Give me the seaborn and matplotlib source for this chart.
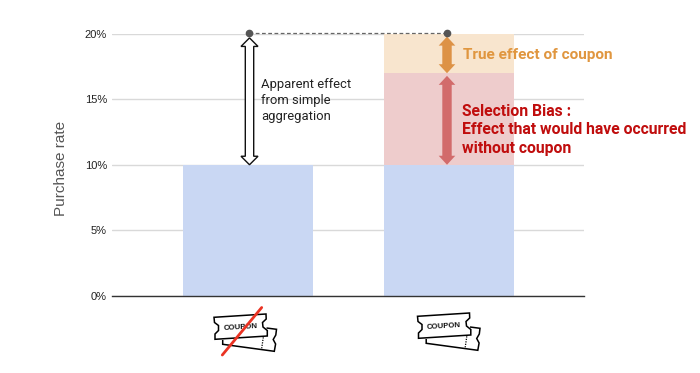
import matplotlib
matplotlib.use("Agg")
import matplotlib.pyplot as plt
from matplotlib.patches import Polygon
from matplotlib.transforms import Affine2D
import numpy as np
import pandas as pd
import seaborn as sns

groups = ["No coupon", "Coupon"]
baseline = [10, 10]
selection_bias = [0, 7]
true_effect = [0, 3]
yticks = [0, 5, 10, 15, 20]
ytick_labels = ["0%", "5%", "10%", "15%", "20%"]

sns.set_theme(style="white")
W, H = 700, 373
fig = plt.figure(figsize=(7, 3.73), dpi=100)
L, R, T, B = 112, 584, 34, 295.5
ax = fig.add_axes([L / W, 1 - B / H, (R - L) / W, (B - T) / H])
px = Affine2D().scale(1, -1).translate(0, H)

df = pd.DataFrame({"g": groups, "b": baseline, "s": selection_bias, "t": true_effect})
bw = 0.647
kw = dict(saturation=1, width=bw, ax=ax, zorder=2, linewidth=0)
sns.barplot(data=df, x="g", y="b", color="#c9d7f3", **kw)
sns.barplot(data=df, x="g", y="s", bottom=df["b"], color="#eecccc", **kw)
sns.barplot(data=df, x="g", y="t", bottom=df["b"] + df["s"], color="#f8e5ce", **kw)

ax.set_xlim(-0.677, 1.672)
ax.set_ylim(0, 20)
ax.set_yticks(yticks, ytick_labels, fontfamily="Liberation Sans", fontsize=8, color="#222222")
ax.set_xticks([])
ax.set_xlabel("")
ax.set_ylabel("Purchase rate", fontfamily="Liberation Sans", fontsize=11, color="#555555")
ax.yaxis.set_label_coords((68 - L) / (R - L), 0.485)
ax.yaxis.grid(True, color="#d9d9d9", lw=1, zorder=0)
ax.set_axisbelow(True)
ax.tick_params(axis="y", length=0, pad=3.6)
for s in ["top", "right", "left"]:
    ax.spines[s].set_visible(False)
ax.spines["bottom"].set_color("#333333")
ax.spines["bottom"].set_linewidth(1)
ax.spines["bottom"].set_zorder(5)


def y2p(v):
    return B - (B - T) * v / 20


def double_arrow(x, v0, v1, face, edge, sw, hw, hl, lw):
    y0, y1 = y2p(v0), y2p(v1)
    pts = [(x - sw, y1 + hl), (x - hw, y1 + hl), (x, y1), (x + hw, y1 + hl), (x + sw, y1 + hl),
           (x + sw, y0 - hl), (x + hw, y0 - hl), (x, y0), (x - hw, y0 - hl), (x - sw, y0 - hl)]
    fig.add_artist(Polygon(pts, closed=True, transform=px, facecolor=face, edgecolor=edge, lw=lw, zorder=6))


double_arrow(249.5, 10, 19.7, "white", "#111111", 4.2, 8.5, 8.5, 1)
double_arrow(447, 10, 16.8, "#d26b6b", "none", 4.7, 8.3, 9, 0)
double_arrow(447, 17.0, 19.8, "#dd9246", "none", 4.7, 8.3, 9, 0)

# Connector between both totals
fig.add_artist(plt.Line2D([249, 447], [33.3, 33.3], transform=px, color="#666666", lw=0.9, ls=(0, (3, 2)), zorder=7))
fig.add_artist(plt.Line2D([249, 447], [33.3, 33.3], transform=px, color="#555555", lw=0, marker="o", ms=4.5, zorder=8))

fig.text(261 / W, 1 - 100.5 / H, "Apparent effect\nfrom simple\naggregation", family="Roboto", fontsize=9.4,
         color="#222222", va="center", ha="left", linespacing=1.3)
fig.text(463 / W, 1 - 54.5 / H, "True effect of coupon", family="Roboto", fontsize=11.1, fontweight="bold",
         color="#e0963f", va="center", ha="left")
fig.text(462 / W, 1 - 130 / H, "Selection Bias :\nEffect that would have occurred\nwithout coupon", family="Roboto",
         fontsize=11.3, fontweight="bold", color="#c00d0d", va="center", ha="left", linespacing=1.25)


def ticket(dx, dy):
    t = px + Affine2D().translate(dx, -dy)
    # back ticket
    back = [(266.5, 328), (276.5, 329.3), (275.8, 335), (273.2, 339.5), (275.6, 344), (274.3, 351.3),
            (222.7, 344.3), (222.7, 340)]
    fig.add_artist(Polygon(back, closed=False, transform=t, facecolor="white", edgecolor="black", lw=1.1, zorder=6))
    fig.add_artist(plt.Line2D([263.3, 261.7], [337.3, 348.3], transform=t, color="black", lw=0.9, ls=(0, (1, 1)), zorder=7))
    # front ticket
    front = [(214, 317.3), (266, 314), (266.2, 319), (262.5, 322.5), (263, 327), (267.3, 330.5), (267.3, 336),
             (215, 339.3), (215, 334), (218.5, 330.5), (218.5, 325.5), (214.5, 322.5)]
    fig.add_artist(Polygon(front, closed=True, transform=t, facecolor="white", edgecolor="black", lw=1.1, zorder=8))
    fig.text((240.5 + dx) / W, 1 - (327 + dy) / H, "COUPON", family="Liberation Sans", fontsize=5.6, fontweight="bold",
             color="#111111", rotation=3.5, ha="center", va="center", zorder=9)


ticket(0, 0)
ticket(203.5, -1)
fig.add_artist(plt.Line2D([261.7, 222.3], [307.5, 355], transform=px, color="#ea3323", lw=2, zorder=10))

fig.savefig("out.png", dpi=100)
